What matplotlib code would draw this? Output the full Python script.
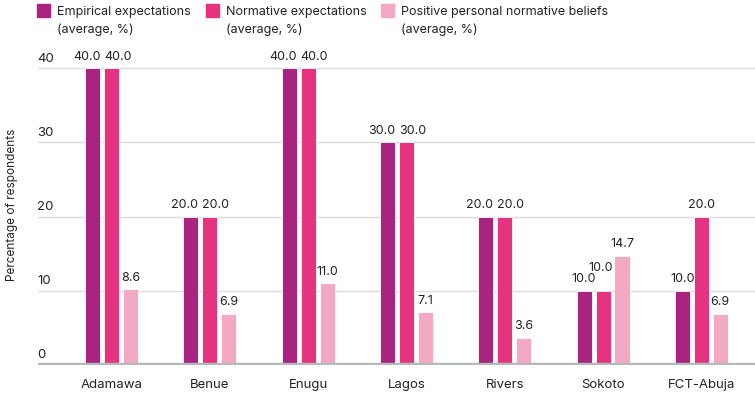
import numpy as np
import matplotlib
matplotlib.use("Agg")
import matplotlib.pyplot as plt
from matplotlib.patches import Rectangle
from matplotlib.transforms import blended_transform_factory

plt.rcParams['font.family'] = ['Inter', 'DejaVu Sans']

states = ["Adamawa", "Benue", "Enugu", "Lagos", "Rivers", "Sokoto", "FCT-Abuja"]
empirical = [40.0, 20.0, 40.0, 30.0, 20.0, 10.0, 10.0]
normative = [40.0, 20.0, 40.0, 30.0, 20.0, 10.0, 20.0]
personal = [10.2, 6.9, 11.0, 7.1, 3.6, 14.7, 6.9]
personal_labels = ["8.6", "6.9", "11.0", "7.1", "3.6", "14.7", "6.9"]
series_names = ["Empirical expectations\n(average, %)",
                "Normative expectations\n(average, %)",
                "Positive personal normative beliefs\n(average, %)"]
colors = ["#a92380", "#e5337f", "#f3a9c4"]
yticks = [0, 10, 20, 30, 40]

W, H = 755, 393
fig = plt.figure(figsize=(W / 100, H / 100), dpi=100)
ax = fig.add_axes([38 / W, (H - 364.7) / H, 1 - 38 / W, (364.7 - 53.5) / H])

x = np.arange(len(states))
width = 0.153
step = 0.193
values = [empirical, normative, personal]
labels = [[f"{v:.1f}" for v in empirical],
          [f"{v:.1f}" for v in normative],
          personal_labels]

# label nudges (points) so side-by-side labels don't collide
nudge = {}
for i in range(len(states)):
    if empirical[i] == normative[i]:
        if empirical[i] >= 20:
            nudge[(0, i)] = (-4.3, 0)
            nudge[(1, i)] = (4.3, 0)
        else:
            nudge[(1, i)] = (-2, 8)

for k, (vals, col) in enumerate(zip(values, colors)):
    pos = x + (k - 1) * step
    ax.bar(pos, vals, width=width, color=col, edgecolor="white",
           linewidth=0.6, zorder=3)
    for i, (p, v) in enumerate(zip(pos, vals)):
        dx, dy = nudge.get((k, i), (0, 0))
        ax.annotate(labels[k][i], (p, v), xytext=(dx, 4 + dy),
                    textcoords="offset points", ha="center", va="bottom",
                    fontsize=9, color="#222222", annotation_clip=False)

ax.set_xlim(-0.748, 6.546)
ax.set_ylim(0, 42)
for s in ax.spines.values():
    s.set_visible(False)
ax.set_yticks([])
ax.set_xticks(x)
ax.set_xticklabels(states, fontsize=9.5, color="#222222")
ax.tick_params(axis="x", length=0, pad=10)

for t in yticks[1:]:
    ax.axhline(t, color="#dcdcdc", linewidth=1, zorder=1)
ax.axhline(0, color="#b5b9b9", linewidth=3.2, zorder=4)

trans = blended_transform_factory(ax.transAxes, ax.transData)
for t in yticks:
    ax.annotate(str(t), (0, t), xycoords=trans, xytext=(-0.5, 2.5 if t else 3),
                textcoords="offset points", ha="left", va="bottom",
                fontsize=9.5, color="#222222", annotation_clip=False)

fig.text(12 / W, 1 - 205 / H, "Percentage of respondents", rotation=90,
         ha="center", va="center", fontsize=8.5, color="#222222")

# legend
legend_x = [37, 206, 381]
for lx, name, col in zip(legend_x, series_names, colors):
    fig.add_artist(Rectangle((lx / W, 1 - 17 / H), 13 / W, 13 / H,
                             transform=fig.transFigure, color=col))
    fig.text((lx + 20) / W, 1 - 6 / H, name, ha="left", va="top",
             fontsize=9, color="#222222", linespacing=1.6)

fig.savefig("out.png", dpi=100)
